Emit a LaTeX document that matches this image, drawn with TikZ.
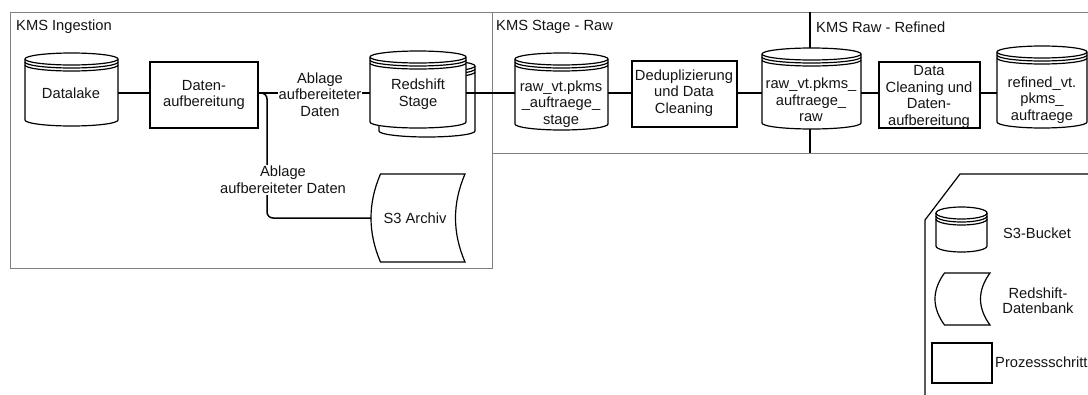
\documentclass[tikz,border=0pt]{standalone}
\usepackage{fontspec}
\setmainfont{Liberation Sans}
\definecolor{contgray}{RGB}{128,128,128}
\definecolor{txt}{RGB}{20,20,20}
\tikzset{
  shapeline/.style={draw=black, line width=1.2pt},
  edgeline/.style={draw=black, line width=1.5pt},
  contline/.style={draw=contgray, line width=1pt},
  txtnode/.style={text=txt, align=center, inner sep=1pt, font=\fontsize{14.7}{16.7}\selectfont},
  titlenode/.style={text=txt, anchor=west, inner sep=0pt, font=\fontsize{14.7}{16.7}\selectfont},
  edgelabel/.style={txtnode, fill=white, inner sep=1pt},
  frame/.style={inner sep=0pt, outer sep=0pt, anchor=north west, draw=none},
}
% datastore cylinder: name, x1, y1, x2, y2
\newcommand\dscyl[5]{%
  \pgfmathsetmacro\mycw{(#4-#2)/2}%
  \node[frame, minimum width={(#4-#2)*1pt}, minimum height={(#5-#3)*1pt}] (#1) at (#2,#3) {};
  \filldraw[shapeline, fill=white] (#2,#3+6) arc[start angle=180,end angle=0,x radius=\mycw pt,y radius=6pt]
     -- (#4,#5-6) arc[start angle=0,end angle=-180,x radius=\mycw pt,y radius=6pt] -- cycle;
  \foreach \k in {6,9,12} {\draw[shapeline] (#2,#3+\k) arc[start angle=180,end angle=360,x radius=\mycw pt,y radius=6pt];}
}
% data storage shape: name, x1, y1, x2, y2
\newcommand\dstor[5]{%
  \pgfmathsetmacro\myha{#3+(#5-#3)/3}%
  \pgfmathsetmacro\myhb{#3+2*(#5-#3)/3}%
  \pgfmathsetmacro\myxr{#4-4*9.5/3}%
  \pgfmathsetmacro\myxl{#2-9.5/3}%
  \pgfmathsetmacro\myxs{#2+9.5}%
  \node[frame, minimum width={(#4-#2)*1pt}, minimum height={(#5-#3)*1pt}] (#1) at (#2,#3) {};
  \filldraw[shapeline, fill=white] (\myxs,#3) -- (#4,#3)
     .. controls (\myxr,\myha) and (\myxr,\myhb) .. (#4,#5) -- (\myxs,#5)
     .. controls (\myxl,\myhb) and (\myxl,\myha) .. (\myxs,#3) -- cycle;
}
% process box: name, x1, y1, x2, y2
\newcommand\procbox[5]{%
  \node[frame, shapeline, fill=white, minimum width={(#4-#2)*1pt}, minimum height={(#5-#3)*1pt}] (#1) at (#2,#3) {};
}
\begin{document}
\begin{tikzpicture}[x=1pt,y=-1pt]
\useasboundingbox (0,0) rectangle (1088,394);
\clip (0,0) rectangle (1088,394);
% containers
\draw[contline] (10,12) rectangle (492,268);
\draw[contline] (492,12) -- (1092,12);
\draw[contline] (492,153) -- (1092,153);
\draw[draw=black, line width=1.2pt] (810,12) -- (810,153);
\node[titlenode] (t1) at (16,27) {KMS Ingestion};
\node[titlenode] (t2) at (496,27) {KMS Stage - Raw};
\node[titlenode] (t3) at (816,27) {KMS Raw - Refined};
% legend frame
\draw[draw=black, line width=1.2pt] (1092,174) -- (960,174) -- (925,220) -- (925,400);

% shapes
\dscyl{dl}{25}{53}{118}{126}
\procbox{da}{150}{62}{258}{128}
\dscyl{rsb}{379}{60}{475}{137}
\dscyl{rs}{370}{51}{466}{128}
\dstor{s3}{371}{174}{465}{262}
\dscyl{rvs}{515}{53}{608}{130}
\procbox{dd}{632}{61}{737}{127}
\dscyl{rr}{762}{48}{861}{129}
\procbox{dc}{879}{62}{980}{128}
\dscyl{rf}{997}{46}{1087}{128}

% connectors
\coordinate (ey) at (0,93);
\coordinate (br) at (267,93);
\draw[edgeline] (dl.east |- ey) -- (da.west |- ey);
\draw[edgeline] (da.east |- ey) -- (rs.west |- ey);
\draw[edgeline, rounded corners=6pt] (da.east |- ey) -- (br) |- (s3.west);
\draw[edgeline] (rs.east |- ey) -- (rvs.west |- ey);
\draw[edgeline] (rvs.east |- ey) -- (dd.west |- ey);
\draw[edgeline] (dd.east |- ey) -- (rr.west |- ey);
\draw[edgeline] (rr.east |- ey) -- (dc.west |- ey);
\draw[edgeline] (dc.east |- ey) -- (rf.west |- ey);

% labels
\node[txtnode] (dl-t) at (71,93) {Datalake};
\node[txtnode] (da-t) at (204,95) {Daten-\\aufbereitung};
\node[edgelabel] (l1) at (320,94.5) {Ablage\\aufbereiteter\\Daten};
\node[edgelabel] (l2) at (283,180) {Ablage\\aufbereiteter Daten};
\node[txtnode] (rs-t) at (418,94) {Redshift\\Stage};
\node[txtnode] (s3-t) at (415,218) {S3 Archiv};
\node[txtnode] (rvs-t) at (561,104) {raw\_vt.pkms\\\_auftraege\_\\stage};
\node[txtnode] (dd-t) at (684,93) {Deduplizierung\\und Data\\Cleaning};
\node[txtnode] (rr-t) at (811,100) {raw\_vt.pkms\_\\auftraege\_\\raw};
\node[txtnode] (dc-t) at (929,97) {Data\\Cleaning und\\Daten-\\aufbereitung};
\node[txtnode] (rf-t) at (1042,100) {refined\_vt.\\pkms\_\\auftraege};

% legend
\dscyl{lg1}{936}{207}{987}{252}
\dstor{lg2}{935}{273}{990}{325}
\procbox{lg3}{932}{343}{992}{383}
\node[txtnode] (lg1-t) at (1037,233) {S3-Bucket};
\node[txtnode, font=\fontsize{14.7}{15.5}\selectfont] (lg2-t) at (1038,300.5) {Redshift-\\Datenbank};
\node[txtnode, anchor=west, inner sep=0pt] (lg3-t) at (995,362) {Prozessschritt};
\end{tikzpicture}
\end{document}
